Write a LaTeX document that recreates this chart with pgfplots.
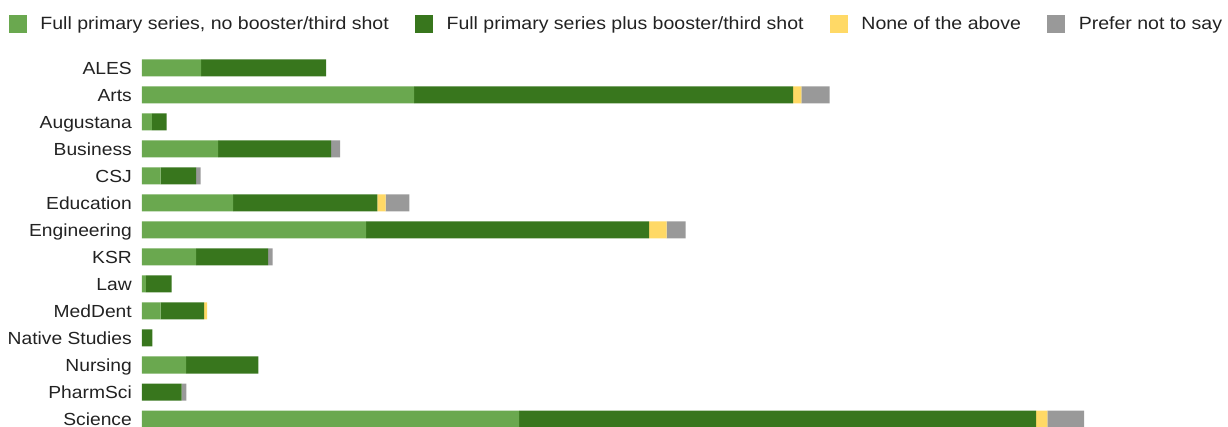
\documentclass[border=0pt]{standalone}
\usepackage{pgfplots}
\pgfplotsset{compat=1.18}
\usepackage{pgfplotstable}
\usepackage{fontspec}
\setmainfont{Liberation Sans}[FakeStretch=1.1]
\definecolor{cLight}{HTML}{6AA84F}
\definecolor{cDark}{HTML}{38761D}
\definecolor{cYellow}{HTML}{FFD966}
\definecolor{cGray}{HTML}{999999}
\definecolor{cText}{HTML}{222222}

\pgfplotstableread{
idx light dark yellow gray
0  59    125    0     0
1  272   379    8.4   28.3
2  10    14.5   0     0
3  76    113    0     9
4  18.7  35.3   0     4.7
5  91    144.3  8.4   23.6
6  224   283    17.7  19
7  54    72     0     4.7
8  4     25.7   0     0
9  18.7  43.3   3     0
10 0     10.3   0     0
11 44    72.3   0     0
12 0     39.7   0     4.7
13 377   517    11.3  36.7
}\datatable

\begin{document}
\begin{tikzpicture}
\begin{axis}[
  at={(142pt,-5.5pt)}, anchor=south west,
  scale only axis, width=1086pt, height=378pt,
  xmin=0, xmax=1086, ymin=-0.5, ymax=13.5,
  y dir=reverse,
  xbar stacked, bar width=17pt,
  axis line style={draw=none},
  major tick length=0pt,
  xtick=\empty,
  ytick={0,...,13},
  yticklabels={ALES,Arts,Augustana,Business,CSJ,Education,Engineering,KSR,Law,MedDent,Native Studies,Nursing,PharmSci,Science},
  yticklabel style={font=\fontsize{17.5}{20}\selectfont, text=cText, inner xsep=0pt, xshift=-10pt, yshift=-2.5pt},
  typeset ticklabels with strut,
  legend columns=4,
  legend style={draw=none, fill=none, inner sep=0pt, outer sep=0pt,
    at={(-0.1225,1.080)}, anchor=west,
    font=\fontsize{17.75}{20}\selectfont, text=cText,
    nodes={inner sep=0pt},
    /tikz/every odd column/.append style={column sep=13.5pt},
    /tikz/every even column/.append style={column sep=26.3pt}},
  legend image code/.code={\fill[#1] (0pt,-9pt) rectangle (18pt,9pt);},
]
\addplot[fill=cLight, draw=none] table[x=light, y=idx] {\datatable};
\addplot[fill=cDark, draw=none] table[x=dark, y=idx] {\datatable};
\addplot[fill=cYellow, draw=none] table[x=yellow, y=idx] {\datatable};
\addplot[fill=cGray, draw=none] table[x=gray, y=idx] {\datatable};
\legend{{Full primary series, no booster/third shot}, {Full primary series plus booster/third shot}, {None of the above}, {Prefer not to say}}
\end{axis}
\pgfresetboundingbox
\path[use as bounding box] (0,0) rectangle (1228pt,427pt);
\end{tikzpicture}
\end{document}
